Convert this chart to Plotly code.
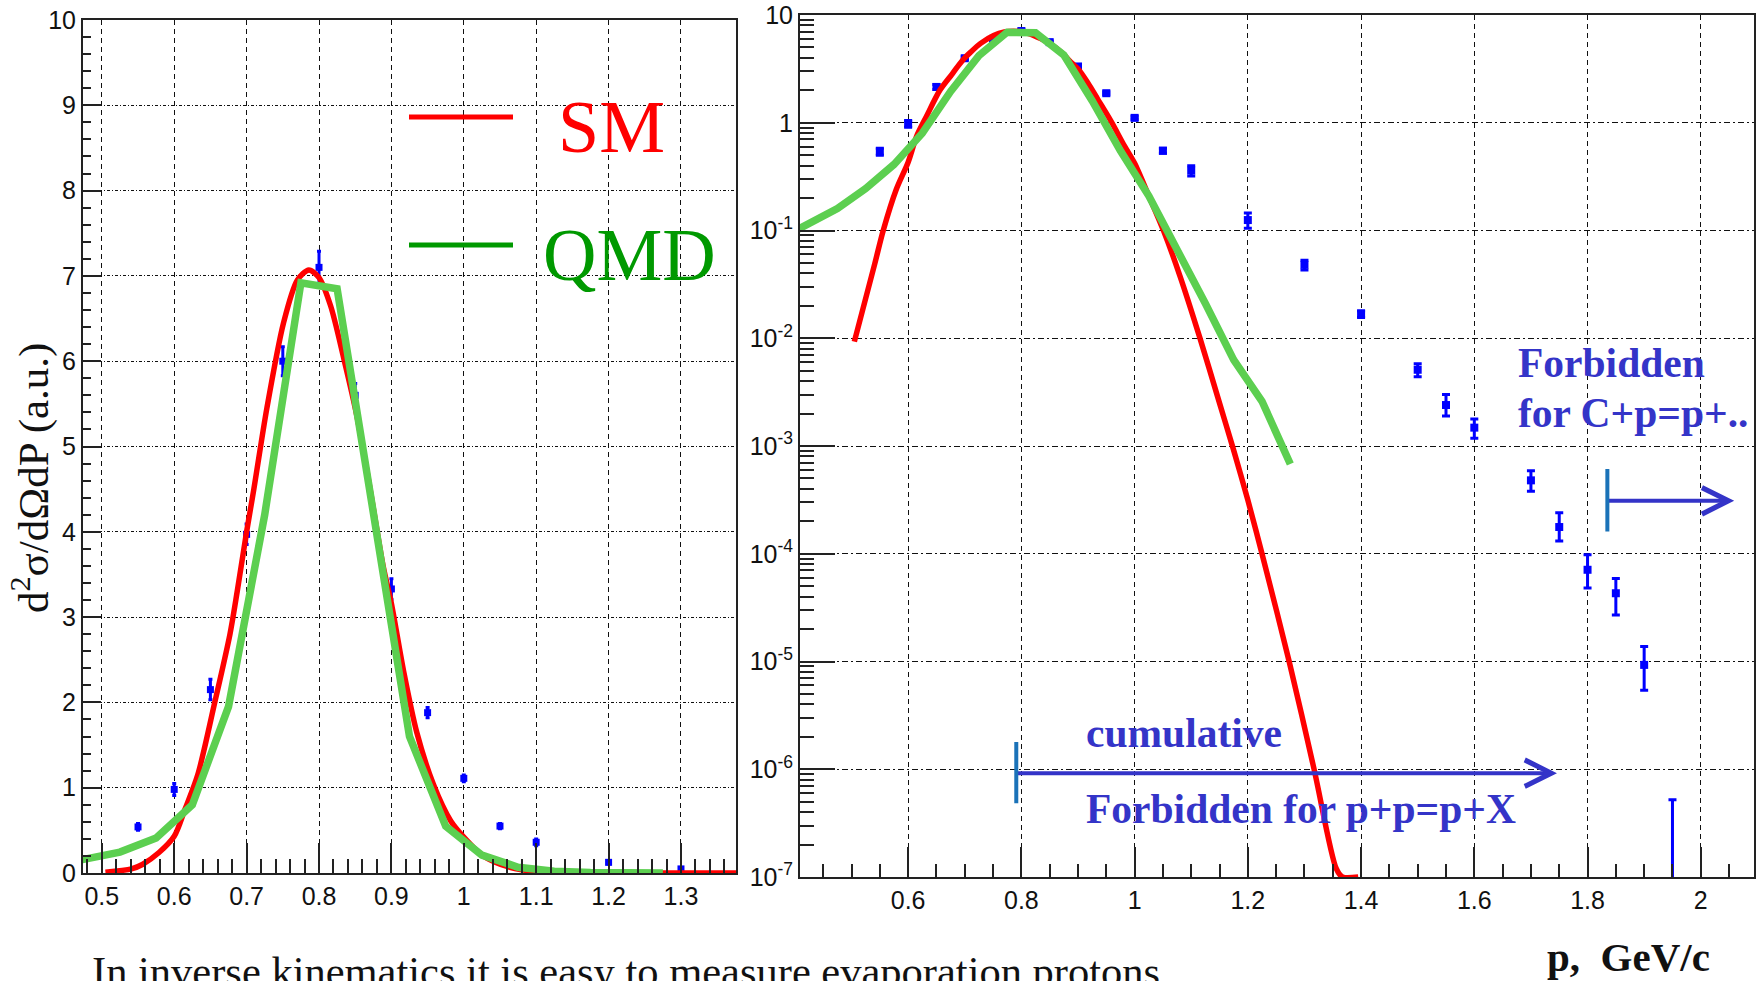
import plotly.graph_objects as go
import math

W, H = 1763, 981

# ---------------- data ----------------
p_data = [0.55, 0.60, 0.65, 0.70, 0.75, 0.80, 0.85, 0.90, 0.95, 1.00, 1.05, 1.10,
          1.20, 1.30, 1.40, 1.50, 1.55, 1.60, 1.70, 1.75, 1.80, 1.85, 1.90, 1.95]
y_data = [0.54, 0.98, 2.15, 3.97, 6.0, 7.1, 5.6, 3.33, 1.88, 1.11, 0.55, 0.36,
          0.125, 0.048, 0.0168, 0.0051, 0.0024, 0.00148, 4.8e-4, 1.77e-4, 7.1e-5, 4.3e-5, 9.3e-6, 8e-8]
err_hi = [0.04, 0.07, 0.12, 0.12, 0.17, 0.19, 0.14, 0.12, 0.06, 0.04, 0.03, 0.04,
          0.02, 0.005, 0.0012, 0.0007, 0.0006, 0.0003, 1.1e-4, 6.3e-5, 2.7e-5, 1.6e-5, 4.5e-6, 4.4e-7]
err_lo = [0.04, 0.07, 0.12, 0.12, 0.17, 0.19, 0.14, 0.12, 0.06, 0.04, 0.03, 0.04,
          0.02, 0.005, 0.0012, 0.0007, 0.0005, 0.0003, 1.0e-4, 4.6e-5, 2.3e-5, 1.6e-5, 3.9e-6, 0.0]

sm_p = [0.505, 0.541, 0.556, 0.579, 0.600, 0.615, 0.6325, 0.656, 0.677, 0.687, 0.700, 0.710,
        0.728, 0.751, 0.770, 0.786, 0.800, 0.816, 0.834, 0.853, 0.871, 0.889, 0.900, 0.917,
        0.935, 0.958, 0.982, 1.000, 1.025, 1.051, 1.080, 1.115, 1.150, 1.174, 1.200, 1.225,
        1.273, 1.317, 1.356, 1.367, 1.395]
sm_y = [0.0093, 0.049, 0.10, 0.24, 0.43, 0.75, 1.15, 2.0, 2.8, 3.3, 4.0, 4.5,
        5.45, 6.45, 6.95, 7.07, 6.98, 6.65, 6.04, 5.33, 4.48, 3.58, 3.16, 2.36,
        1.65, 1.04, 0.61, 0.42, 0.21, 0.10, 0.038, 0.0102, 2.5e-3, 9.5e-4, 3.15e-4, 1.0e-4,
        1.0e-5, 1.0e-6, 1.2e-7, 1.0e-7, 1.0e-7]

qmd_p = [0.405, 0.425, 0.475, 0.525, 0.575, 0.625, 0.675, 0.725, 0.775, 0.825, 0.875,
         0.925, 0.975, 1.025, 1.075, 1.125, 1.175, 1.225, 1.275]
qmd_y = [0.102, 0.115, 0.16, 0.245, 0.41, 0.80, 1.95, 4.2, 6.92, 6.85, 4.25,
         1.6, 0.55, 0.21, 0.068, 0.021, 0.0063, 0.0026, 0.00068]

lin_ticks = [0, 1, 2, 3, 4, 5, 6, 7, 8, 9, 10]
log_tickvals = [1e-7, 1e-6, 1e-5, 1e-4, 1e-3, 1e-2, 1e-1, 1, 10]
log_ticktext = ["10<sup>-7</sup>", "10<sup>-6</sup>", "10<sup>-5</sup>", "10<sup>-4</sup>",
                "10<sup>-3</sup>", "10<sup>-2</sup>", "10<sup>-1</sup>", "1", "10"]
log_minor = [m * 10.0 ** e for e in range(-7, 1) for m in range(2, 10)]

RED = "#ff0000"
GREEN = "#5ccf50"
BLUE = "#0000ff"
TXTBLUE = "#3434c8"

fig = go.Figure()

for xa, ya, msize, ew in (("x", "y", 7, 2), ("x2", "y2", 8, 4)):
    fig.add_trace(go.Scatter(
        x=p_data, y=y_data, mode="markers", xaxis=xa, yaxis=ya,
        marker=dict(symbol="square", size=msize, color=BLUE, line=dict(width=0)),
        error_y=dict(type="data", symmetric=False, array=err_hi, arrayminus=err_lo,
                     color=BLUE, thickness=3, width=ew),
        showlegend=False))
    fig.add_trace(go.Scatter(x=sm_p, y=sm_y, mode="lines", xaxis=xa, yaxis=ya,
                             line=dict(color=RED, width=5.5, shape="spline", smoothing=0.8),
                             showlegend=False))
    fig.add_trace(go.Scatter(x=qmd_p, y=qmd_y, mode="lines", xaxis=xa, yaxis=ya,
                             line=dict(color=GREEN, width=7.5), showlegend=False))

common = dict(showline=True, mirror=True, linecolor="#222", linewidth=2,
              ticks="inside", tickcolor="#222", tickwidth=1.5, automargin=False,
              showgrid=True, gridcolor="#111", gridwidth=1, zeroline=False)

narrow = dict(family="Liberation Sans Narrow, Arial Narrow, Liberation Sans, Arial", size=25, color="#111")
sans = dict(family="Liberation Sans, Arial", size=25, color="#111")

serif = "Liberation Serif, Times New Roman, serif"

fig.update_layout(
    width=W, height=H, margin=dict(l=0, r=0, t=0, b=0, pad=0, autoexpand=False),
    paper_bgcolor="white", plot_bgcolor="white", showlegend=False,
    title=dict(text="In inverse kinematics it is easy to measure evaporation protons",
               x=92 / W, xanchor="left", xref="container", y=1 - 971 / H, yanchor="middle",
               yref="container", font=dict(family=serif, size=42.5, color="#111")),
    xaxis=dict(domain=[83 / W, 736 / W], range=[0.474, 1.376], anchor="y",
               tick0=0.5, dtick=0.1, ticklen=30, griddash="5px,4px", tickfont=narrow,
               minor=dict(tick0=0.5, dtick=0.02, ticks="inside", ticklen=14,
                          tickcolor="#222", tickwidth=1.5, showgrid=False), **common),
    yaxis=dict(domain=[1 - 873 / H, 1 - 20 / H], range=[0, 10], anchor="x",
               tickmode="array", tickvals=lin_ticks, ticklen=18,
               griddash="3px,2px,1px,2px", tickfont=narrow,
               minor=dict(tick0=0, dtick=0.2, ticks="inside", ticklen=8,
                          tickcolor="#222", tickwidth=1.5, showgrid=False), **common),
    xaxis2=dict(domain=[800 / W, 1754 / W], range=[0.409, 2.094], anchor="y2",
                tick0=0, dtick=0.2, ticklen=30, griddash="5px,4px", tickfont=sans,
                minor=dict(tick0=0, dtick=0.05, ticks="inside", ticklen=13,
                           tickcolor="#222", tickwidth=1.5, showgrid=False), **common),
    yaxis2=dict(type="log", domain=[1 - 877 / H, 1 - 15 / H], range=[-7, 1], anchor="x2",
                tickmode="array", tickvals=log_tickvals, ticktext=log_ticktext, ticklen=35,
                griddash="6px,3px,2px,3px", tickfont=sans,
                minor=dict(tickmode="array", tickvals=log_minor, ticks="inside", ticklen=14,
                           tickcolor="#222", tickwidth=1.5, showgrid=False), **common),
)


def px(xp):
    return xp / W


def py(yp):
    return 1 - yp / H


ann = []
# legend
ann.append(dict(x=px(556), y=py(127), xref="paper", yref="paper", text="SM", showarrow=False,
                xanchor="left", yanchor="middle", font=dict(family=serif, size=74, color=RED)))
ann.append(dict(x=px(541), y=py(255), xref="paper", yref="paper", text="QMD", showarrow=False,
                xanchor="left", yanchor="middle", font=dict(family=serif, size=74, color="#009900")))
# y title
ann.append(dict(x=px(30), y=py(478), xref="paper", yref="paper", textangle=-90,
                text="d<sup>2</sup>σ/dΩdP (a.u.)", showarrow=False, xanchor="center", yanchor="middle",
                font=dict(family=serif, size=43, color="#111")))
# x title
ann.append(dict(x=px(1545), y=py(957), xref="paper", yref="paper", text="<b>p,\u00a0\u00a0GeV/c</b>",
                showarrow=False, xanchor="left", yanchor="middle",
                font=dict(family=serif, size=41, color="#111")))
# blue texts
for txt, xl, yc in (("cumulative", 1084, 733), ("Forbidden for p+p=p+X", 1084, 809),
                    ("Forbidden", 1516, 363), ("for C+p=p+..", 1516, 413)):
    ann.append(dict(x=px(xl), y=py(yc), xref="paper", yref="paper", text="<b>%s</b>" % txt,
                    showarrow=False, xanchor="left", yanchor="middle",
                    font=dict(family=serif, size=41.5, color=TXTBLUE)))

# arrows (in data coords of right panel; log axis uses log10 values)
for x0, x1, yv in ((0.791, 1.746, 9.2e-7), (1.835, 2.059, 3.1e-4)):
    ly = math.log10(yv)
    ann.append(dict(x=x1, y=ly, ax=x0, ay=ly, xref="x2", yref="y2", axref="x2", ayref="y2",
                    text="", showarrow=True, arrowhead=5, arrowsize=1.3, arrowwidth=4,
                    arrowcolor=TXTBLUE))
for xv, a, b in ((0.791, -6.33, -5.747), (1.835, -3.807, -3.213)):
    ann.append(dict(x=xv, y=b, ax=xv, ay=a, xref="x2", yref="y2", axref="x2", ayref="y2",
                    text="", showarrow=True, arrowhead=0, arrowwidth=4, arrowcolor="#1a72b8"))

fig.update_layout(annotations=ann)

shapes = [
    dict(type="line", xref="paper", yref="paper", x0=px(409), x1=px(513), y0=py(117), y1=py(117),
         line=dict(color=RED, width=5)),
    dict(type="line", xref="paper", yref="paper", x0=px(409), x1=px(513), y0=py(245), y1=py(245),
         line=dict(color="#009900", width=5)),
]
fig.update_layout(shapes=shapes)

fig.write_html("out.html")
